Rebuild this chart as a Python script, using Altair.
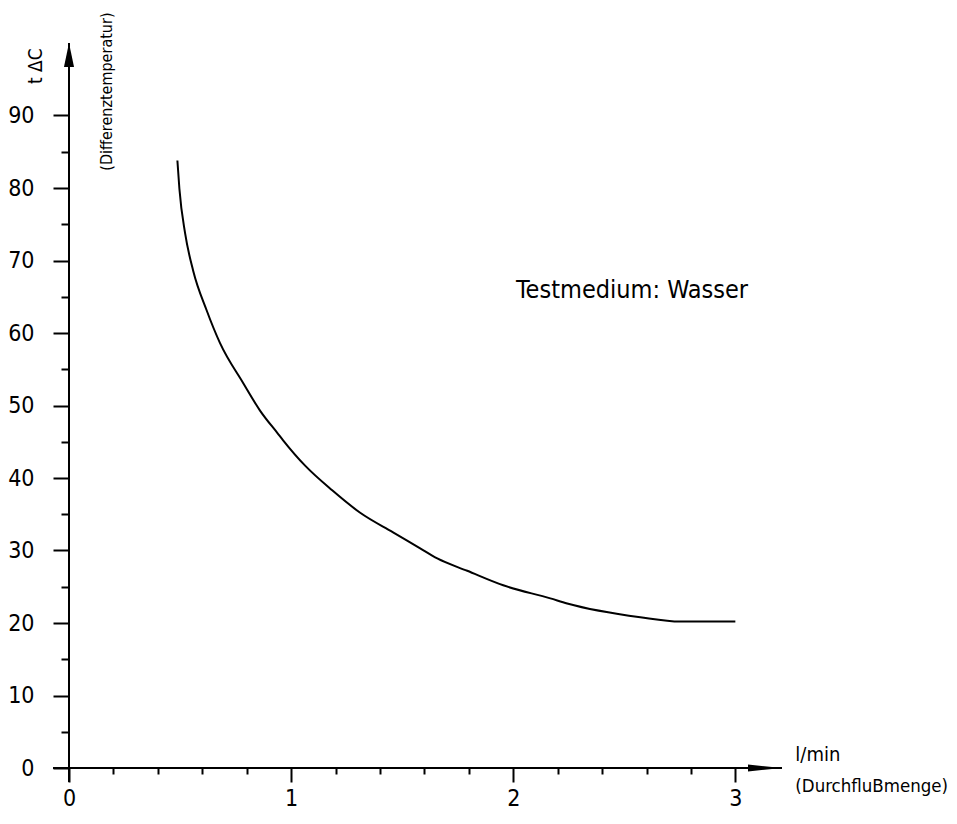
import altair as alt
import pandas as pd

# Curve (flow in l/min, temperature difference in °C)
flow = [0.488, 0.497, 0.523, 0.559, 0.620, 0.680, 0.784, 0.860, 0.941, 0.964,
        1.063, 1.185, 1.311, 1.459, 1.581, 1.658, 1.793, 1.955, 2.167, 2.243,
        2.572, 2.752, 3.0]
temp = [83.8, 79.9, 73.7, 68.6, 63.1, 58.6, 53.1, 49.3, 46.1, 45.2,
        41.7, 38.3, 35.2, 32.5, 30.3, 28.9, 27.2, 25.2, 23.4, 22.7,
        20.8, 20.2, 20.2]

x_ticks = [0, 0.2, 0.4, 0.6, 0.8, 1, 1.2, 1.4, 1.6, 1.8, 2, 2.2, 2.4, 2.6, 2.8, 3]
y_ticks = [0, 5, 10, 15, 20, 25, 30, 35, 40, 45, 50, 55, 60, 65, 70, 75, 80, 85, 90]

X_MAX = 3.21
Y_MAX = 100.0

FONT = "Liberation Sans Narrow, DejaVu Sans Condensed, Liberation Sans, sans-serif"

W, H = 713, 725

x_scale = alt.Scale(domain=[0, X_MAX], nice=False, zero=False)
y_scale = alt.Scale(domain=[0, Y_MAX], nice=False, zero=False)

x_axis = alt.Axis(
    values=x_ticks, domain=False, grid=False, title=None,
    labelExpr="abs(datum.value - round(datum.value)) < 0.001 ? format(datum.value, 'd') : ''",
    tickSize={"condition": {"test": "abs(datum.value - round(datum.value)) < 0.001", "value": 14}, "value": 6},
    tickWidth=2, tickColor="black", labelColor="black",
    labelFont=FONT, labelFontSize=23, labelPadding=5, labelFlush=False,
)
y_axis = alt.Axis(
    values=y_ticks, domain=False, grid=False, title=None,
    labelExpr="datum.value % 10 === 0 ? format(datum.value, 'd') : ''",
    tickSize={"condition": {"test": "datum.value % 10 === 0", "value": 16}, "value": 8},
    tickWidth=2, tickColor="black", labelColor="black",
    labelFont=FONT, labelFontSize=23, labelPadding=19, labelFlush=False,
)


def X(field):
    return alt.X(field, type="quantitative", scale=x_scale, axis=x_axis)


def Y(field):
    return alt.Y(field, type="quantitative", scale=y_scale, axis=y_axis)


curve_df = pd.DataFrame({"x": flow, "y": temp})
curve = alt.Chart(curve_df).mark_line(color="black", strokeWidth=2, interpolate="monotone").encode(
    x=X("x"), y=Y("y"),
)

# axis lines (extending slightly past the origin, as in the drawing)
axes_df = pd.DataFrame({
    "x": [-0.072, 0.0],
    "x2": [X_MAX, 0.0],
    "y": [0.0, -1.93],
    "y2": [0.0, Y_MAX],
})
axis_lines = alt.Chart(axes_df).mark_rule(color="black", strokeWidth=2).encode(
    x=X("x"), x2="x2:Q", y=Y("y"), y2="y2:Q",
)

x_arrow = alt.Chart(pd.DataFrame({"x": [X_MAX], "y": [0.0]})).mark_point(
    shape="M0,0L-2,-0.2L-2,0.2Z", size=1156, filled=True, color="black", opacity=1, strokeWidth=0
).encode(x=X("x"), y=Y("y"))

y_arrow = alt.Chart(pd.DataFrame({"x": [0.0], "y": [Y_MAX]})).mark_point(
    shape="M0,0L0.42,2L-0.42,2Z", size=576, filled=True, color="black", opacity=1, strokeWidth=0
).encode(x=X("x"), y=Y("y"))


def label(text, x, y, size, align="left", baseline="alphabetic", angle=0):
    df = pd.DataFrame({"x": [x], "y": [y], "t": [text]})
    kw = dict(align=align, baseline=baseline, font=FONT, fontSize=size, color="black")
    if angle:
        kw["angle"] = angle
    return alt.Chart(df).mark_text(**kw).encode(x=X("x"), y=Y("y"), text="t:N")


texts = [
    label("Testmedium: Wasser", 2.013, 64.8, 25),
    label("l/min", 3.27, 1.03, 20),
    label("(DurchfluBmenge)", 3.27, -2.55, 18.5, baseline="middle"),
    label("(Differenztemperatur)", 0.171, 93.3, 16, align="center", baseline="middle", angle=270),
    label("t ΔC", -0.149, 96.8, 19, align="center", baseline="middle", angle=270),
]

chart = alt.layer(curve, axis_lines, x_arrow, y_arrow, *texts).properties(
    width=W, height=H,
    autosize=alt.AutoSizeParams(type="none"),
    padding={"left": 61, "top": 35, "right": 167, "bottom": 48},
    background="white",
).configure_view(stroke=None)

chart.save("out.html", embed_options={"renderer": "svg", "actions": False})
